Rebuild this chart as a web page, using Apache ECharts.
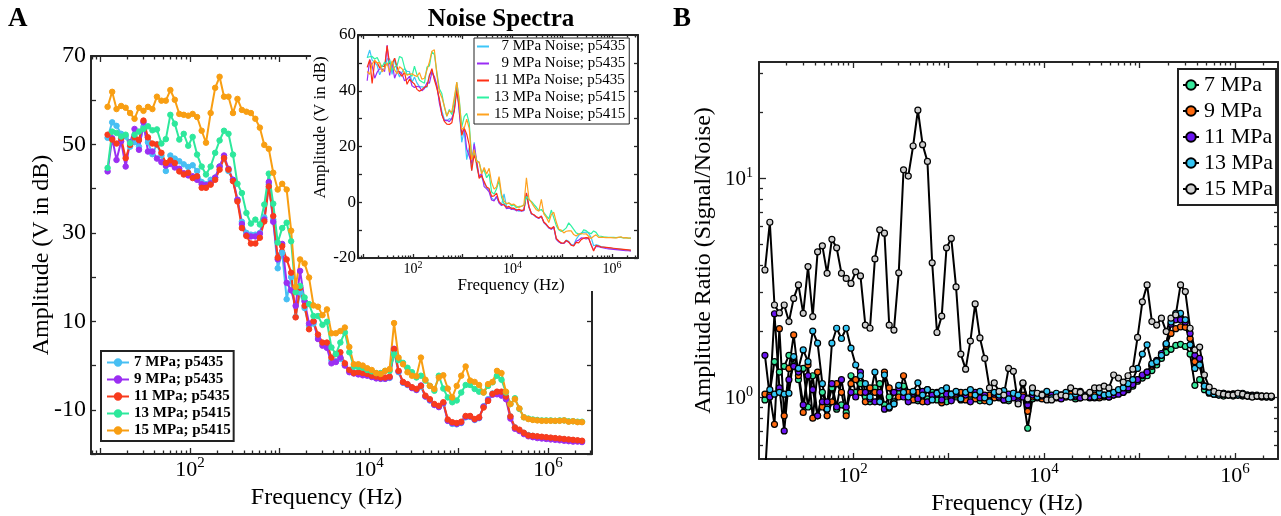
<!DOCTYPE html>
<html>
<head>
<meta charset="utf-8">
<script src="https://cdn.jsdelivr.net/npm/echarts@6.0.0/dist/echarts.min.js"></script>
<style>html,body{margin:0;padding:0;background:#fff;}#chart{width:1281px;height:516px;}</style>
</head>
<body>
<div id="chart"></div>
<script>
// ---------- shared frequency grid (Hz) ----------
const freqHz = [12.0,13.5,15.1,17.0,19.1,21.4,24.0,26.9,30.2,33.9,38.0,42.7,47.9,53.7,60.3,67.6,75.9,85.1,95.5,
107,120,135,151,170,191,214,240,269,302,339,380,427,479,537,603,676,759,851,955,
1072,1202,1349,1514,1698,1905,2138,2399,2692,3020,3388,3802,4266,4786,5370,6026,6761,7586,8511,9550,
10720,12020,13490,15140,16980,19050,21380,23990,26920,30200,33880,38020,42660,47860,53700,60260,67610,75860,85110,95500,
107200,120200,134900,151400,169800,190500,213800,239900,269200,302000,338800,380200,426600,478600,537000,602600,676100,758600,851100,955000,
1072000,1202000,1349000,1514000,1698000,1905000,2138000,2399000];

// ---------- Panel A: signal amplitude (dB) ----------
const sig7MPa = [51.5,55.0,54.2,52.4,51.8,49.5,50.5,49.5,54.0,50.5,47.8,50.0,47.5,44.0,47.5,46.8,
46.2,45.5,44.9,45.3,44.0,41.5,41.0,42.0,42.5,45.0,47.0,44.0,42.0,37.5,32.5,30.0,29.6,29.6,30.0,33.5,41.0,33.0,22.0,25.5,15.0,20.0,11.0,16.5,13.0,9.0,9.5,6.5,
5.0,4.5,1.2,1.0,1.5,0.2,-1.2,-1.5,-1.8,-2.0,-2.1,-2.5,-2.8,-3.0,-3.0,-2.8,
3.0,-1.5,-3.9,-4.4,-5.0,-5.5,-4.8,-7.0,-7.9,-8.9,-9.3,-8.6,-12.5,-13.2,-13.3,-13.0,-11.7,-11.6,-12.3,-11.9,-9.2,-7.6,-6.3,-6.0,-6.1,-7.2,-11.5,-14.0,-14.6,-15.2,-15.7,-15.9,-16.1,-16.2,-16.3,-16.4,-16.5,-16.6,-16.7,-16.8,-16.9,-17.0,-17.1];
const sig9MPa = [43.9,51.4,46.5,50.7,45.0,50.5,53.5,48.8,55.0,48.4,48.4,46.8,46.0,45.2,45.6,44.8,
44.5,43.5,43.0,42.8,42.0,41.0,40.8,41.2,42.5,45.0,47.5,44.5,42.0,37.5,32.0,29.5,29.2,29.2,29.8,33.0,41.5,32.5,24.0,27.5,18.7,17.0,13.5,21.4,14.5,9.5,10.0,6.0,
4.5,4.0,0.5,0.8,1.8,0.0,-1.5,-1.8,-2.0,-2.2,-2.3,-2.6,-2.9,-3.0,-3.0,-2.7,
3.8,-1.3,-3.8,-4.3,-5.1,-5.5,-4.5,-7.0,-7.8,-8.9,-9.4,-8.5,-12.5,-13.0,-13.2,-12.9,-11.6,-11.5,-12.2,-11.8,-9.3,-7.8,-6.6,-6.5,-6.8,-7.6,-12.0,-14.3,-14.8,-15.5,-16.0,-16.2,-16.4,-16.5,-16.6,-16.7,-16.8,-16.9,-17.0,-17.1,-17.2,-17.2,-17.3];
const sig11MPa = [52.2,51.1,50.2,51.4,46.9,49.9,51.6,51.0,55.4,51.6,50.2,50.0,48.1,45.8,46.4,45.8,
43.9,43.2,43.6,42.4,42.8,40.2,40.2,40.9,42.0,44.3,46.9,44.3,41.7,37.1,31.1,29.3,27.6,27.6,28.9,32.6,40.5,33.8,24.4,27.0,24.0,21.0,10.9,17.6,13.5,8.2,10.0,7.0,
5.2,5.2,1.8,2.6,3.0,0.5,-1.0,-1.7,-1.5,-1.7,-1.9,-2.3,-2.5,-2.7,-2.7,-2.5,
3.7,-1.2,-3.7,-4.2,-4.9,-5.3,-4.6,-6.8,-7.6,-8.7,-9.1,-8.3,-12.2,-12.8,-13.0,-12.7,-11.4,-11.4,-12.1,-11.7,-9.5,-8.0,-6.4,-5.9,-5.9,-7.0,-11.5,-14.0,-14.5,-15.2,-15.8,-15.9,-16.0,-16.1,-16.2,-16.3,-16.4,-16.5,-16.6,-16.7,-16.8,-16.9,-17.0];
const sig13MPa = [44.7,52.9,52.6,51.8,52.2,50.3,52.2,52.9,53.5,54.1,53.2,53.4,50.2,51.2,56.7,54.7,51.1,52.4,49.7,51.7,
47.7,45.0,43.2,45.0,48.1,50.9,53.1,52.4,47.7,41.1,39.0,34.5,32.1,33.0,31.9,36.4,43.4,36.6,27.8,31.1,
32.3,28.1,16.6,18.0,15.4,13.9,11.2,11.2,9.2,9.9,4.1,2.6,5.2,7.5,3.0,-0.2,-0.3,-0.5,-1.0,-1.3,
-1.7,-1.7,-1.2,-1.2,2.5,1.2,0.6,-0.5,-1.5,-2.7,-2.3,-3.4,-4.6,-5.7,-2.3,-5.2,-7.2,-8.3,-7.9,-6.1,
-4.4,-4.4,-5.3,-5.9,-6.1,-4.6,-3.8,-2.3,-3.2,-6.1,-8.7,-7.4,-9.8,-11.7,-12.0,-12.2,-12.3,-12.4,-12.4,-12.4,
-12.5,-12.4,-12.4,-12.6,-12.6,-12.7,-12.7];
const sig15MPa = [58.5,61.9,58.0,58.7,58.3,57.1,55.8,58.3,57.6,58.5,58.0,60.8,59.9,59.9,62.3,60.1,56.9,56.7,56.5,56.9,
56.2,53.1,50.4,57.1,62.8,65.3,60.8,60.8,57.1,60.3,57.8,57.4,57.1,55.8,53.8,49.9,49.0,43.6,39.8,41.1,
39.8,30.5,17.8,24.0,23.1,19.9,13.6,13.3,11.4,12.7,7.3,7.3,7.8,8.6,4.2,0.3,0.3,0.0,-0.6,-1.0,
-1.7,-1.9,-1.2,-0.8,9.6,1.8,0.3,-1.5,-2.3,-2.4,1.8,-3.2,-4.6,-5.3,-2.7,-2.2,-5.2,-7.2,-4.6,-2.3,
-0.2,-3.4,-3.7,-4.4,-6.1,-4.2,-3.7,-1.2,-1.7,-5.9,-8.7,-7.6,-9.7,-11.7,-12.1,-12.3,-12.4,-12.5,-12.5,-12.5,
-12.5,-12.5,-12.4,-12.7,-12.6,-12.8,-12.8];

// ---------- Panel A inset: noise amplitude (dB) ----------
const noise7MPa = [51.8,54.6,51.0,50.1,49.0,45.7,47.6,47.9,51.4,51.4,45.9,51.7,47.1,44.9,46.7,47.9,46.9,46.9,43.0,44.9,
42.8,41.5,41.4,41.2,41.3,45.7,47.0,44.4,41.6,36.5,32.8,
29.7,29.2,30.0,29.6,33.8,40.6,33.4,21.5,25.8,15.3,19.6,11.4,21.5,12.6,9.4,9.0,6.9,
5.3,4.2,1.5,0.7,1.8,-0.1,-1.0,3.0,-1.6,-2.2,-2.0,-2.7,-2.6,-3.2,-2.9,-3.0,
2.6,-1.8,-4.2,-4.6,-5.3,-5.7,-5.2,-7.3,-8.2,-9.2,-9.6,-9.0,
-13.2,-14.2,-14.7,-14.7,-13.6,-14.0,-15.2,-15.4,-13.3,-12.0,-11.0,-10.8,-10.7,-11.1,-12.6,-15.6,-15.3,-15.5,
-15.9,-16.1,-16.3,-16.4,-16.5,-16.6,-16.7,-16.8,-16.9,-17.0,-17.1,-17.2,-17.3];
const noise9MPa = [43.6,51.2,49.0,44.5,46.7,47.9,47.8,46.9,56.4,45.5,50.3,44.5,46.9,46.9,46.0,43.6,44.1,45.2,41.8,41.2,
41.6,41.4,40.0,40.8,42.9,42.7,46.7,45.1,42.0,35.6,31.6,
29.2,29.5,28.9,30.1,32.6,41.9,32.1,24.4,27.1,19.1,16.6,13.9,21.0,14.9,9.1,10.4,5.6,
4.8,3.7,0.8,0.5,2.1,-0.3,-1.2,-0.6,-2.3,-2.0,-2.6,-2.4,-3.1,-2.8,-3.2,-2.9,
3.4,-1.6,-4.1,-4.6,-5.4,-5.8,-4.9,-7.3,-8.1,-9.2,-9.7,-8.9,
-13.3,-14.2,-14.8,-14.8,-13.9,-14.3,-15.4,-15.6,-14.0,-13.6,-12.8,-12.9,-13.2,-12.9,-15.2,-17.2,-15.8,-15.9,
-16.2,-16.4,-16.6,-16.7,-16.8,-16.9,-17.0,-17.1,-17.2,-17.3,-17.4,-17.4,-17.5];
const noise11MPa = [48.4,51.1,42.6,50.6,50.0,48.3,48.8,48.7,56.1,49.7,49.5,51.7,48.5,46.2,45.2,46.7,42.3,44.1,43.2,42.4,
40.5,39.8,40.4,41.3,41.6,45.4,47.9,43.9,40.9,37.1,31.5,
29.0,28.0,27.9,28.5,33.0,40.1,34.2,24.0,26.6,24.4,20.6,11.3,17.2,13.9,8.6,9.6,7.4,
5.5,4.9,2.1,2.3,3.3,0.2,-0.7,-1.0,-1.8,-1.5,-2.2,-2.1,-2.8,-2.5,-3.0,-2.7,
3.3,-1.5,-4.0,-4.5,-5.2,-5.6,-5.0,-7.1,-7.9,-9.0,-9.4,-8.7,
-13.0,-13.9,-14.6,-14.7,-13.7,-14.3,-15.4,-15.7,-14.4,-14.6,-13.4,-12.9,-12.7,-12.8,-15.3,-17.5,-15.5,-15.7,
-16.0,-16.1,-16.2,-16.3,-16.4,-16.5,-16.6,-16.7,-16.8,-16.9,-17.0,-17.1,-17.2];
const noise13MPa = [52.0,52.2,52.3,51.4,51.9,50.0,48.5,50.3,49.2,50.9,47.2,48.5,49.0,52.3,51.8,48.4,45.8,46.1,45.2,48.8,
45.8,43.8,43.2,42.7,48.5,48.9,54.0,53.0,46.6,40.7,39.0,
34.2,30.8,33.3,31.5,36.0,43.0,36.9,27.0,30.7,31.9,28.4,16.2,18.3,15.0,14.2,10.8,11.5,8.8,10.2,3.7,2.9,4.8,7.8,1.8,
-0.5,-0.6,-0.2,-1.3,-1.0,-2.0,-1.5,-1.5,-1.0,2.1,0.9,0.3,-0.8,-1.8,-3.0,-2.6,-3.7,-4.9,-6.0,-2.8,-5.6,
-8.4,-9.9,-10.5,-10.0,-9.2,-7.4,-8.5,-9.7,-11.0,-11.4,-11.4,-9.9,-10.2,-10.9,-11.3,-10.3,-10.8,-12.1,
-12.2,-12.4,-12.5,-12.6,-12.6,-12.6,-12.7,-12.6,-12.6,-12.8,-12.8,-12.9,-12.9];
const noise15MPa = [46.9,45.9,49.6,51.0,49.9,50.2,46.8,48.1,50.0,46.6,50.7,47.5,46.1,48.6,47.9,46.5,45.6,45.9,46.1,45.5,
45.1,46.5,44.1,44.5,47.5,50.3,54.2,54.7,45.8,39.6,37.6,34.5,30.9,32.8,32.3,37.6,43.1,36.2,26.2,26.6,
29.8,26.6,15.3,18.9,14.6,14.5,10.1,12.5,10.1,12.2,7.1,4.7,5.5,9.2,2.9,0.5,-0.5,-0.3,-0.8,-0.7,
-1.4,-1.9,-1.4,-0.9,8.8,1.3,-0.1,-1.5,-2.7,-3.2,1.0,-4.2,-5.4,-7.3,-4.4,-3.6,-7.1,-9.7,-10.0,-11.0,
-10.4,-10.3,-10.3,-11.6,-12.1,-11.4,-11.2,-11.4,-11.3,-12.2,-13.0,-12.2,-11.7,-12.6,-12.6,-12.6,-12.7,-12.7,-12.7,-12.8,
-12.8,-12.6,-12.4,-12.8,-12.7,-12.9,-12.9];

// ---------- Panel B: amplitude ratio (signal/noise) ----------
const ratio7MPa = [0.97,1.05,1.45,1.3,1.38,1.55,1.4,1.2,1.35,0.9,1.25,0.82,1.05,0.9,1.1,0.88,0.92,0.85,1.25,1.05,
1.15,1.0,0.95,1.1,1.15,0.92,1.0,0.95,1.05,1.12,0.97,
1.02,0.96,1.04,0.98,1.05,0.97,1.02,0.95,1.03,1.0,0.97,1.04,0.98,1.02,0.96,1.01,0.97,1.03,0.99,1.02,
0.96,1.0,0.98,1.01,0.72,0.98,1.01,0.99,1.0,0.98,1.01,0.99,1.0,1.01,0.98,1.0,1.01,0.99,1.0,1.01,1.0,1.0,
1.02,1.04,1.05,1.08,1.12,1.18,1.22,1.25,1.32,1.4,1.5,1.6,1.65,1.72,1.74,1.7,1.57,1.13,1.2,1.08,1.04,1.03,
1.02,1.01,1.02,1.01,1.02,1.01,1.01,1.0,1.01,1.0,1.0,1.0];
const ratio9MPa = [1.03,1.02,0.75,2.05,0.82,1.35,1.92,1.25,0.85,1.4,0.8,1.3,0.9,0.82,0.95,1.15,1.05,0.82,1.15,1.2,
1.05,0.95,1.1,1.05,0.95,1.3,1.1,0.93,1.0,1.25,1.05,
0.97,1.05,0.95,1.08,0.98,1.03,0.94,1.06,0.99,1.02,1.05,0.97,1.03,0.98,1.04,0.96,1.02,0.99,1.03,0.97,
1.01,1.04,0.98,1.02,0.86,1.0,1.03,0.98,1.01,1.0,0.99,1.02,1.0,1.03,1.0,0.99,1.01,1.0,1.02,0.99,1.01,1.0,
1.03,1.05,1.06,1.1,1.15,1.2,1.25,1.3,1.38,1.45,1.55,1.72,1.95,2.05,2.09,2.08,1.85,1.45,1.4,1.12,1.05,1.04,
1.03,1.03,1.02,1.03,1.02,1.02,1.01,1.01,1.01,1.0,1.0,1.0];
const ratio11MPa = [1.55,1.0,2.4,1.1,0.7,1.2,1.38,1.3,0.92,1.25,1.08,0.82,0.95,0.95,1.15,0.9,1.2,0.9,1.05,1.0,
1.3,1.05,0.98,0.95,1.05,0.88,0.89,1.05,1.1,1.0,0.95,
1.04,0.98,1.06,0.95,1.02,1.05,0.97,1.03,0.96,1.04,0.98,1.02,0.95,1.05,0.99,1.02,0.96,1.03,1.0,0.97,
1.03,0.99,0.95,1.0,0.92,1.02,0.99,1.01,0.98,1.02,1.0,0.98,1.02,1.0,1.01,0.99,1.02,1.0,0.99,1.01,1.02,1.0,
1.02,1.03,1.05,1.1,1.14,1.2,1.26,1.3,1.4,1.47,1.58,1.75,2.15,2.25,2.25,2.2,1.95,1.55,1.5,1.12,1.06,1.05,
1.04,1.04,1.03,1.03,1.04,1.03,1.02,1.02,1.01,1.01,1.01,1.0];
const ratio13MPa = [0.43,1.08,1.03,1.05,1.03,1.04,1.53,1.35,1.64,1.45,2.0,1.76,1.15,0.88,1.76,2.06,1.85,2.06,1.67,1.4,
1.25,1.15,1.0,1.3,0.95,1.26,0.9,0.93,1.13,1.05,1.0,
1.06,1.16,1.02,1.08,0.97,1.04,1.07,1.1,1.03,1.06,0.98,1.05,1.08,1.02,1.06,0.99,0.95,1.05,1.02,1.07,
0.98,1.04,1.02,1.15,0.97,1.05,1.0,1.03,1.06,0.99,1.04,1.02,1.05,1.0,1.03,1.06,1.01,1.04,1.0,1.05,1.02,1.03,
1.05,1.08,1.1,1.15,1.2,1.35,1.57,1.73,1.42,1.45,1.55,1.75,2.2,2.41,2.41,2.25,1.73,1.35,1.4,1.12,1.05,1.03,
1.02,1.04,1.02,1.03,1.02,1.04,1.02,1.01,1.02,1.01,1.0,1.0];
const ratio15MPa = [3.80,6.28,2.63,2.42,2.63,2.21,2.82,3.25,2.41,3.94,2.33,4.6,4.9,3.67,5.25,4.8,3.67,3.48,3.30,3.73,
3.57,2.13,2.06,4.27,5.8,5.6,2.13,2.02,3.69,10.9,10.2,14.0,20.4,14.2,11.9,4.1,1.97,2.34,4.8,5.3,
3.18,1.57,1.34,1.8,2.66,1.86,1.5,1.1,1.16,1.06,1.02,1.35,1.31,0.93,1.16,0.98,1.1,1.04,1.02,0.97,
0.97,1.0,1.02,1.01,1.1,1.06,1.05,1.0,1.05,1.1,1.1,1.12,1.1,1.26,1.22,1.17,1.25,1.34,1.87,2.72,
3.25,2.21,2.13,2.29,1.99,2.29,2.37,3.25,3.03,2.06,1.64,1.69,1.26,1.11,1.06,1.04,1.03,1.02,1.02,1.04,
1.03,1.01,1.0,1.01,1.01,1.01,1.01];

// ---------- names, tick labels ----------
const aNames = ['7 MPa; p5435','9 MPa; p5435','11 MPa; p5435','13 MPa; p5415','15 MPa; p5415'];
const insetNames = ['  7 MPa Noise; p5435','  9 MPa Noise; p5435','11 MPa Noise; p5435','13 MPa Noise; p5415','15 MPa Noise; p5415'];
const bNames = ['7 MPa','9 MPa','11 MPa','13 MPa','15 MPa'];
const aYTickLabels = [-10,10,30,50,70];
const insetYTickLabels = [-20,0,20,40,60];
const xTickLabels = [100,10000,1000000];
const bYTickLabels = [1,10];

const aColors = ['#47BFF3','#9B2FF2','#F83B1D','#2DE89C','#F89E12'];
const insetColors = ['#3DC6F8','#9A2CF5','#FF2F14','#2EF2A2','#FFA21F'];
const bColors = ['#35E89C','#FF6A10','#6A14F2','#35C6F4','#CFCFCF'];

// ---------- helpers ----------
const SERIF = '"Liberation Serif","Times New Roman",serif';
const INK = '#262626';
const pairs = arr => freqHz.map((f, i) => [f, arr[i]]);
function decadeTicks(min, max) {
  const maj = [], mnr = [];
  for (let e = -2; e <= 8; e++) {
    const b = +Math.pow(10, e).toPrecision(6);
    if (b >= min && b <= max) maj.push(b);
    for (let m = 2; m <= 9; m++) {
      const v = +(m * Math.pow(10, e)).toPrecision(6);
      if (v >= min && v <= max) mnr.push(v);
    }
  }
  return {maj, mnr};
}
const supFmt = v => '{b|10}{s|' + Math.round(Math.log10(v)) + '}';
function supRich(base, sup) {
  return {
    b: {fontFamily: SERIF, fontSize: base, color: '#000', lineHeight: Math.round(base * 1.15), verticalAlign: 'bottom'},
    s: {fontFamily: SERIF, fontSize: sup, color: '#000', lineHeight: sup + 1, verticalAlign: 'top'}
  };
}
function logAxes(gridIndex, range, pos, mirror, majLen, minLen, label, nameCfg, z) {
  const t = decadeTicks(range[0], range[1]);
  const mk = (p, vals, len, line, lab, extra) => Object.assign({
    type: 'log', logBase: 10, gridIndex, min: range[0], max: range[1], position: p, z,
    axisLine: {show: line, onZero: false, lineStyle: {color: INK, width: 2}},
    axisTick: {show: true, inside: true, length: len, customValues: vals, lineStyle: {color: INK, width: 1.3}},
    axisLabel: lab || {show: false},
    splitLine: {show: false}, minorTick: {show: false}
  }, extra || {});
  return [mk(pos, t.maj, majLen, true, label, nameCfg), mk(pos, t.mnr, minLen, false),
          mk(mirror, t.maj, majLen, true), mk(mirror, t.mnr, minLen, false)];
}
function valueAxes(gridIndex, range, labelVals, fontSize, margin, tickLen, nameCfg, z) {
  const mk = (p, lab, extra) => Object.assign({
    type: 'value', gridIndex, min: range[0], max: range[1], interval: 10, position: p, z,
    axisLine: {show: true, onZero: false, lineStyle: {color: INK, width: 2}},
    axisTick: {show: true, inside: true, length: tickLen, lineStyle: {color: INK, width: 1.3}},
    axisLabel: lab, splitLine: {show: false}
  }, extra || {});
  return [
    mk('left', {show: true, margin, fontFamily: SERIF, fontSize, color: '#000',
      formatter: v => labelVals.indexOf(v) >= 0 ? String(v) : ''}, nameCfg),
    mk('right', {show: false})
  ];
}

// ---------- axes ----------
const aXRange = [7.83, 3.1e6], insetXRange = [7.85, 3.33e6], bXRange = [10.4, 2.82e6];
const aYRange = [-20, 70], insetYRange = [-20, 60], bYRange = [0.521, 33.86];

const xAxes = [].concat(
  logAxes(0, aXRange, 'bottom', 'top', 6, 3.5,
    {show: true, customValues: xTickLabels, margin: 2, formatter: supFmt, rich: supRich(22, 15)},
    {name: 'Frequency (Hz)', nameLocation: 'middle', nameGap: 27,
     nameTextStyle: {fontFamily: SERIF, fontSize: 24, color: '#000', padding: [0, 30, 0, 0]}}, 0),
  logAxes(1, insetXRange, 'bottom', 'top', 4, 2.5,
    {show: true, customValues: xTickLabels, margin: 2, formatter: supFmt, rich: supRich(14, 10)},
    {name: 'Frequency (Hz)', nameLocation: 'middle', nameGap: 14,
     nameTextStyle: {fontFamily: SERIF, fontSize: 17, color: '#000', padding: [0, 0, 0, 26]}}, 20),
  logAxes(2, bXRange, 'bottom', 'top', 6, 3.5,
    {show: true, customValues: xTickLabels, margin: 3, formatter: supFmt, rich: supRich(22, 15)},
    {name: 'Frequency (Hz)', nameLocation: 'middle', nameGap: 25,
     nameTextStyle: {fontFamily: SERIF, fontSize: 24, color: '#000', padding: [0, 23, 0, 0]}}, 0)
);
const bY = logAxes(2, bYRange, 'left', 'right', 7, 4,
    {show: true, customValues: bYTickLabels, margin: 6, formatter: supFmt, rich: supRich(21, 14)},
    {name: 'Amplitude Ratio (Signal/Noise)', nameLocation: 'middle', nameGap: 43,
     nameTextStyle: {fontFamily: SERIF, fontSize: 24, color: '#000'}}, 0);
const yAxes = [].concat(
  valueAxes(0, aYRange, aYTickLabels, 24, 5, 5,
    {name: 'Amplitude (V in dB)', nameLocation: 'middle', nameGap: 37, nameMoveOverlap: false,
     nameTextStyle: {fontFamily: SERIF, fontSize: 24, color: '#000'}}, 0),
  valueAxes(1, insetYRange, insetYTickLabels, 17, 2, 4,
    {name: 'Amplitude (V in dB)', nameLocation: 'middle', nameGap: 24,
     nameTextStyle: {fontFamily: SERIF, fontSize: 17, color: '#000', padding: [0, 0, 0, 38]}}, 20),
  bY
);

// ---------- series ----------
const aData = [sig7MPa, sig9MPa, sig11MPa, sig13MPa, sig15MPa];
const insetData = [noise7MPa, noise9MPa, noise11MPa, noise13MPa, noise15MPa];
const bData = [ratio7MPa, ratio9MPa, ratio11MPa, ratio13MPa, ratio15MPa];
const series = [];
aData.forEach((arr, i) => series.push({
  name: aNames[i], type: 'line', xAxisIndex: 0, yAxisIndex: 0, data: pairs(arr),
  symbol: 'circle', symbolSize: 5.5, silent: true,
  lineStyle: {color: aColors[i], width: 2},
  itemStyle: {color: aColors[i], borderColor: aColors[i], borderWidth: 1}
}));
insetData.forEach((arr, i) => series.push({
  name: insetNames[i], type: 'line', xAxisIndex: 4, yAxisIndex: 2, data: pairs(arr),
  symbol: 'none', showSymbol: false, silent: true, z: 20,
  lineStyle: {color: insetColors[i], width: 1.2},
  itemStyle: {color: insetColors[i]}
}));
bData.forEach((arr, i) => series.push({
  name: bNames[i], type: 'line', xAxisIndex: 8, yAxisIndex: 4, data: pairs(arr),
  symbol: 'circle', symbolSize: 6, silent: true,
  lineStyle: {color: '#000', width: 2},
  itemStyle: {color: bColors[i], borderColor: '#000', borderWidth: 1.2}
}));

const chart = echarts.init(document.getElementById('chart'), null, {renderer: 'canvas'});
chart.setOption({
  animation: false,
  backgroundColor: '#fff',
  textStyle: {fontFamily: SERIF},
  grid: [
    {left: 91, top: 56, width: 501, height: 398, outerBoundsMode: 'none'},
    {left: 358, top: 35, width: 280, height: 223, outerBoundsMode: 'none'},
    {left: 759, top: 62, width: 519, height: 397, outerBoundsMode: 'none'}
  ],
  xAxis: xAxes,
  yAxis: yAxes,
  legend: [
    {data: aNames, left: 101, top: 351, orient: 'vertical', itemWidth: 22, itemHeight: 8, itemGap: 2,
     textStyle: {fontFamily: SERIF, fontSize: 15, fontWeight: 'bold', color: '#000'},
     borderColor: '#222', borderWidth: 2, padding: [4, 3, 3, 5], backgroundColor: '#fff', selectedMode: false, z: 5},
    {data: insetNames, left: 474, top: 38, orient: 'vertical', icon: 'rect', itemWidth: 12, itemHeight: 2, itemGap: 2,
     textStyle: {fontFamily: SERIF, fontSize: 15, color: '#000'},
     borderColor: '#222', borderWidth: 1, padding: [1, 4, 2, 3], backgroundColor: '#fff', selectedMode: false, z: 25},
    {data: bNames, left: 1178, top: 69, orient: 'vertical', itemWidth: 16, itemHeight: 12, itemGap: 4,
     textStyle: {fontFamily: SERIF, fontSize: 22, color: '#000'},
     borderColor: '#222', borderWidth: 2, padding: [5, 3, 5, 4], backgroundColor: '#fff', selectedMode: false, z: 5}
  ],
  graphic: {elements: [
    {type: 'rect', shape: {x: 311, y: 0, width: 350, height: 216}, style: {fill: '#fff'}, z: 10, silent: true},
    {type: 'rect', shape: {x: 336, y: 215, width: 325, height: 76}, style: {fill: '#fff'}, z: 10, silent: true},
    {type: 'text', style: {text: 'A', x: 8, y: 19.5, textAlign: 'left', textVerticalAlign: 'middle', font: 'bold 27px "Liberation Serif"', fill: '#000'}, z: 30},
    {type: 'text', style: {text: 'B', x: 673, y: 19.5, textAlign: 'left', textVerticalAlign: 'middle', font: 'bold 27px "Liberation Serif"', fill: '#000'}, z: 30},
    {type: 'text', style: {text: 'Noise Spectra', x: 501, y: 20, textAlign: 'center', textVerticalAlign: 'middle', font: 'bold 25px "Liberation Serif"', fill: '#000'}, z: 30}
  ]},
  series
});
</script>
</body>
</html>
